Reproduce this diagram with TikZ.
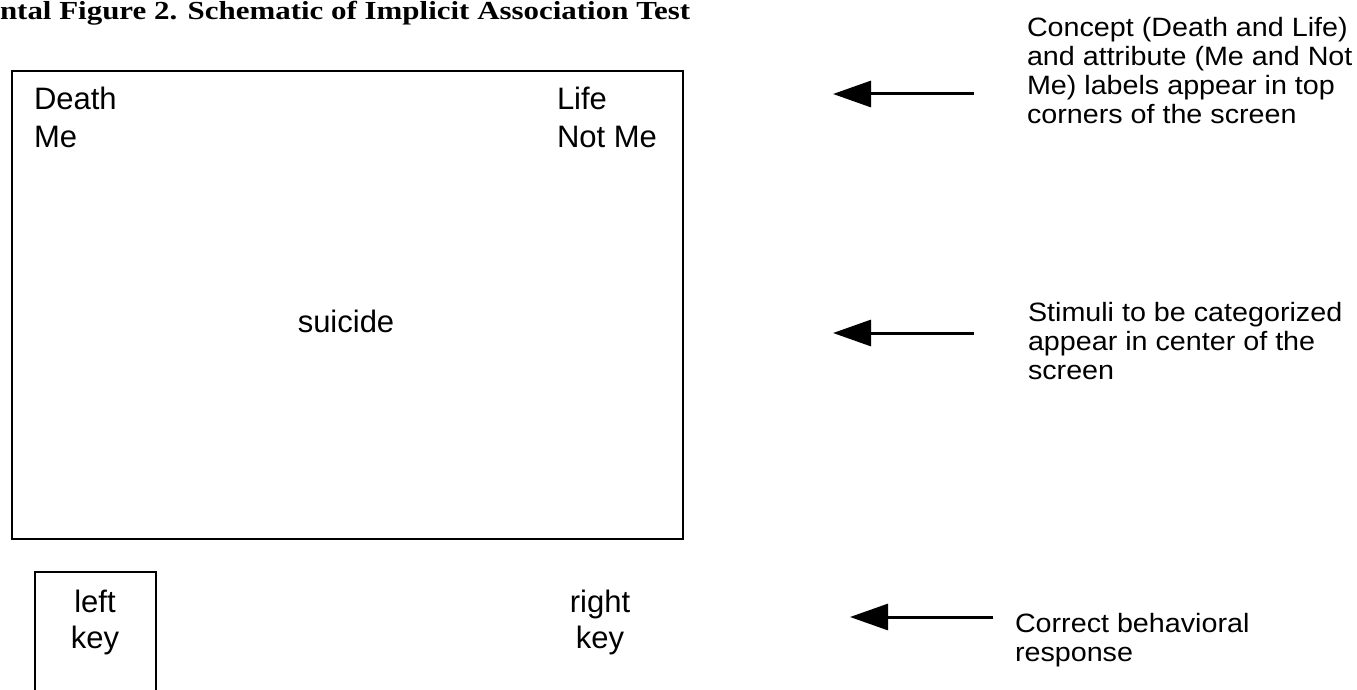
\documentclass[tikz,border=0pt]{standalone}
\usepackage{graphicx}
\usepackage{fontspec}
\setmainfont{Liberation Sans}
\newfontfamily\titlefont{Liberation Serif}
\usetikzlibrary{arrows.meta}
\newcommand\wideNote[1]{\scalebox{1.083}[1]{#1}}
\newcommand\wideTitle[1]{\scalebox{1.19}[1]{#1}}
\tikzset{
  every node/.style={inner sep=0pt, outer sep=0pt},
  boxtext/.style={anchor=base west, font=\fontsize{31}{37}\selectfont},
  keytext/.style={anchor=base, font=\fontsize{31}{37}\selectfont},
  note/.style={anchor=base west, font=\fontsize{26.5}{29}\selectfont},
  frame/.style={draw, line width=1.5pt},
  pointer/.style={line width=3pt, -{Triangle[length=38pt,width=26pt]}},
}
\begin{document}
\begin{tikzpicture}[x=1pt,y=-1pt]
\useasboundingbox (0,0) rectangle (1357,690);
% title
\node[anchor=base west, font=\titlefont\bfseries\fontsize{26}{30}\selectfont] (title) at (0,20) {\wideTitle{ntal Figure 2. Schematic of Implicit Association Test}};
% screen
\draw[frame] (12,71) rectangle (683,539);
\node[boxtext] (death) at (34,110) {Death};
\node[boxtext] (me) at (34,147) {Me};
\node[boxtext] (life) at (557,110) {Life};
\node[boxtext] (notme) at (557,147) {Not Me};
\node[keytext] (suicide) at (346,332) {suicide};
% keys
\draw[frame] (35,700) -- (35,572) -- (156,572) -- (156,700);
\node[keytext] (left) at (95,612) {left};
\node[keytext] (lkey) at (95,648) {key};
\node[keytext] (right) at (600,612) {right};
\node[keytext] (rkey) at (600,648) {key};
% arrows
\coordinate (a1s) at (974,94);  \coordinate (a1e) at (833,94);
\coordinate (a2s) at (974,333); \coordinate (a2e) at (833,333);
\coordinate (a3s) at (993,617); \coordinate (a3e) at (850,617);
\draw[pointer] (a1s) -- (a1e);
\draw[pointer] (a2s) -- (a2e);
\draw[pointer] (a3s) -- (a3e);
% notes
\node[note] (n1a) at (1027,36.5) {\wideNote{Concept (Death and Life)}};
\node[note] (n1b) at (1027,65.5) {\wideNote{and attribute (Me and Not}};
\node[note] (n1c) at (1027,94.5) {\wideNote{Me) labels appear in top}};
\node[note] (n1d) at (1027,123.5) {\wideNote{corners of the screen}};
\node[note] (n2a) at (1028,321) {\wideNote{Stimuli to be categorized}};
\node[note] (n2b) at (1028,350) {\wideNote{appear in center of the}};
\node[note] (n2c) at (1028,379) {\wideNote{screen}};
\node[note] (n3a) at (1015,632) {\wideNote{Correct behavioral}};
\node[note] (n3b) at (1015,661) {\wideNote{response}};
\end{tikzpicture}
\end{document}
